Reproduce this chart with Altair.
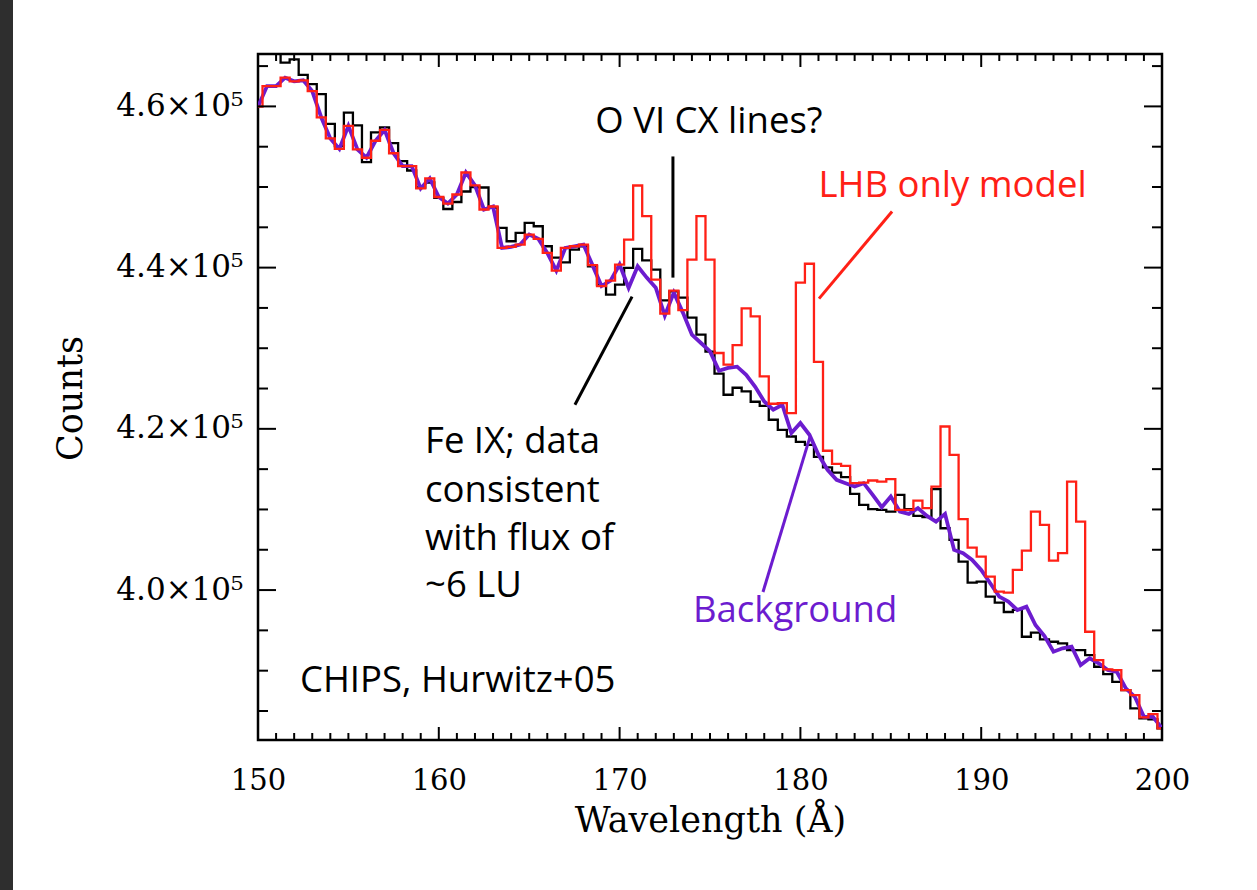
import altair as alt
import pandas as pd

# ---- data (bin centres, 0.5 A bins) ----
wavelength = [150 + 0.5 * i for i in range(101)]

data_counts = [
    466800, 466800, 466800, 465430, 465840, 463910, 462770, 461530, 457830, 455070,
    459220, 457640, 453080, 456770, 457390, 455440, 453210, 452050, 449940, 450560,
    448660, 447270, 448140, 449440, 450000, 449940, 447460, 444930, 443270, 444310,
    445560, 445130, 442650, 441250, 440660, 442240, 442650, 440170, 437890, 436650,
    437890, 439970, 442330, 440910, 439760, 435940, 437060, 436280, 433790, 431680,
    429570, 426840, 424230, 425100, 424640, 423360, 422860, 421130, 419880, 419050,
    418390, 418020, 416530, 415230, 414580, 414010, 411930, 410570, 410030, 409950,
    409740, 411810, 410030, 409200, 409040, 412520, 407670, 406220, 403530, 400920,
    401040, 399180, 398430, 397280, 397530, 394210, 394710, 393890, 393590, 393390,
    392560, 392560, 391940, 390490, 389580, 388620, 387590, 385320, 384080, 383950,
    382840,
]

lhb_model = [
    459960, 462520, 462520, 463560, 463110, 463230, 461900, 458630, 456030, 454720,
    457580, 454660, 453630, 455740, 457080, 454190, 452590, 452590, 449820, 451080,
    448760, 447950, 449070, 451800, 450210, 447210, 447580, 442450, 442570, 442860,
    444100, 443570, 441830, 439630, 442450, 442650, 442860, 440310, 437710, 438390,
    440380, 443480, 450190, 446380, 438510, 434290, 437150, 434730, 441000, 446380,
    441000, 429410, 427960, 430380, 434940, 433960, 426500, 423110, 423200, 421960,
    438140, 440480, 428300, 417280, 415660, 415410, 413260, 413340, 413590, 413460,
    413760, 409950, 409950, 411100, 410160, 412840, 420290, 416780, 408790, 405260,
    404150, 401660, 399800, 399680, 402500, 404890, 409740, 408080, 403650, 404570,
    413460, 408490, 394830, 391320, 390160, 390080, 387590, 386970, 384200, 384610,
    382840,
]

background = [
    459960, 462520, 462520, 463560, 463110, 463230, 461900, 458630, 456030, 454720,
    457580, 454660, 453630, 455740, 457080, 454190, 452590, 452590, 449820, 451080,
    448760, 447950, 449070, 451800, 450210, 447210, 447580, 442450, 442570, 442860,
    444100, 443570, 441830, 439630, 442450, 442650, 442860, 440310, 437710, 438390,
    440380, 437480, 440170, 438760, 437520, 434040, 436900, 434420, 431680, 430650,
    429610, 427210, 427550, 427710, 426710, 425220, 423400, 422370, 422990, 419470,
    420720, 419260, 416780, 414920, 413670, 413260, 412840, 413260, 411810, 410280,
    411600, 409740, 409450, 410160, 409200, 408490, 409450, 404980, 404570, 403740,
    402500, 400840, 399180, 398560, 397530, 397940, 395660, 394300, 392350, 392770,
    392970, 390700, 391530, 390910, 390080, 389860, 387800, 386760, 384280, 384280,
    382840,
]

# axis ticks
x_major = [150, 160, 170, 180, 190, 200]
x_minor = [v for v in range(151, 200) if v % 10 != 0]
y_major = [400000, 420000, 440000, 460000]
y_minor = [v for v in range(385000, 466000, 5000) if v % 20000 != 0]

# annotations (data coordinates)
ann_text = ["O VI CX lines?", "LHB only model", "Fe IX; data", "consistent",
            "with flux of", "~6 LU", "Background", "CHIPS, Hurwitz+05"]
ann_x = [174.94, 181.0, 159.24, 159.24, 159.24, 159.24, 174.06, 152.32]
ann_y = [456700, 448820, 417000, 410940, 404980, 399140, 396040, 387340]
ann_align = ["center", "left", "left", "left", "left", "left", "left", "left"]
ann_color = ["black", "#ff2016", "black", "black", "black", "black", "#6c1ccf", "black"]

ptr_x1 = [172.95, 167.53, 181.03, 177.93]
ptr_x2 = [172.95, 170.69, 185.07, 180.53]
ptr_y1 = [453790, 422990, 436150, 399760]
ptr_y2 = [438760, 436400, 446960, 419010]
ptr_color = ["black", "black", "#ff2016", "#6c1ccf"]

W, H = 904, 686
XDOM = [150, 200]
YDOM = [381400, 466500]

df = pd.DataFrame({"wl": wavelength, "data": data_counts,
                   "lhb": lhb_model, "bg": background})

xs = alt.Scale(domain=XDOM, nice=False, zero=False)
ys = alt.Scale(domain=YDOM, nice=False, zero=False)

x_axis = alt.Axis(values=x_major, format="d", ticks=False, tickSize=0, domain=False,
                  grid=False, labelFlush=False, labelOverlap=False,
                  labelFont="DejaVu Serif", labelFontSize=29,
                  labelColor="black", labelPadding=26, labelBaseline="top",
                  title="Wavelength (Å)", titleFont="DejaVu Serif", titleFontSize=35,
                  titleFontWeight="normal", titleColor="black", titleX=W / 2,
                  titleY=80, titleBaseline="middle", titleAlign="center")
y_axis = alt.Axis(values=y_major,
                  labelExpr="format(datum.value/100000, '.1f') + '×10⁵'",
                  ticks=False, tickSize=0, domain=False, grid=False,
                  labelFlush=False, labelOverlap=False,
                  labelFont="DejaVu Serif", labelFontSize=31, labelColor="black",
                  labelPadding=15, title="Counts", titleFont="DejaVu Serif",
                  titleFontSize=35, titleFontWeight="normal", titleColor="black",
                  titleAngle=270, titleX=-188, titleY=344, titleBaseline="middle",
                  titleAlign="center")

base = alt.Chart(df)

black = base.mark_line(interpolate="step", color="black", strokeWidth=2.3,
                       clip=True).encode(
    x=alt.X("wl:Q", scale=xs, axis=x_axis),
    y=alt.Y("data:Q", scale=ys, axis=y_axis))
purple = base.mark_line(color="#6c1ccf", strokeWidth=3.8, clip=True).encode(
    x=alt.X("wl:Q", scale=xs), y=alt.Y("bg:Q", scale=ys))
red = base.mark_line(interpolate="step", color="#ff2016", strokeWidth=2.3,
                     clip=True).encode(
    x=alt.X("wl:Q", scale=xs), y=alt.Y("lhb:Q", scale=ys))

# ticks (inward, mirrored)
def xticks(vals, length):
    d = pd.DataFrame({"v": vals})
    b = alt.Chart(d).mark_rule(color="black", strokeWidth=2)
    bottom = b.encode(x=alt.X("v:Q", scale=xs), y=alt.value(H), y2=alt.value(H - length))
    top = b.encode(x=alt.X("v:Q", scale=xs), y=alt.value(0), y2=alt.value(length))
    return [bottom, top]

def yticks(vals, length):
    d = pd.DataFrame({"v": vals})
    b = alt.Chart(d).mark_rule(color="black", strokeWidth=2)
    left = b.encode(y=alt.Y("v:Q", scale=ys), x=alt.value(0), x2=alt.value(length))
    right = b.encode(y=alt.Y("v:Q", scale=ys), x=alt.value(W), x2=alt.value(W - length))
    return [left, right]

tick_layers = xticks(x_major, 13) + xticks(x_minor, 7) + yticks(y_major, 18) + yticks(y_minor, 10)

ptr_df = pd.DataFrame({"x1": ptr_x1, "x2": ptr_x2, "y1": ptr_y1, "y2": ptr_y2,
                       "c": ptr_color})
pointers = alt.Chart(ptr_df).mark_rule(strokeWidth=3).encode(
    x=alt.X("x1:Q", scale=xs), x2="x2:Q",
    y=alt.Y("y1:Q", scale=ys), y2="y2:Q",
    color=alt.Color("c:N", scale=None))

ann_df = pd.DataFrame({"t": ann_text, "x": ann_x, "y": ann_y, "a": ann_align,
                       "c": ann_color})
texts = []
for al in ["left", "center"]:
    sub = ann_df[ann_df["a"] == al]
    texts.append(alt.Chart(sub).mark_text(font="Open Sans", fontSize=36.5,
                                          align=al, baseline="alphabetic").encode(
        x=alt.X("x:Q", scale=xs), y=alt.Y("y:Q", scale=ys), text="t:N",
        color=alt.Color("c:N", scale=None)))

# dark window edge at the far left of the page (screenshot frame)
edge = alt.Chart(pd.DataFrame({"k": [0]})).mark_rect(color="#2e2e2e").encode(
    x=alt.value(-258), x2=alt.value(-245), y=alt.value(-54), y2=alt.value(H + 150))

chart = alt.layer(edge, black, purple, red, *tick_layers, pointers, *texts).properties(
    width=W, height=H,
    padding={"left": 258, "top": 54, "right": 95, "bottom": 150},
    autosize=alt.AutoSizeParams(type="none"),
    background="white",
).configure_view(stroke="black", strokeWidth=2.5)

chart.save("out.html", embed_options={"renderer": "svg", "actions": False})
